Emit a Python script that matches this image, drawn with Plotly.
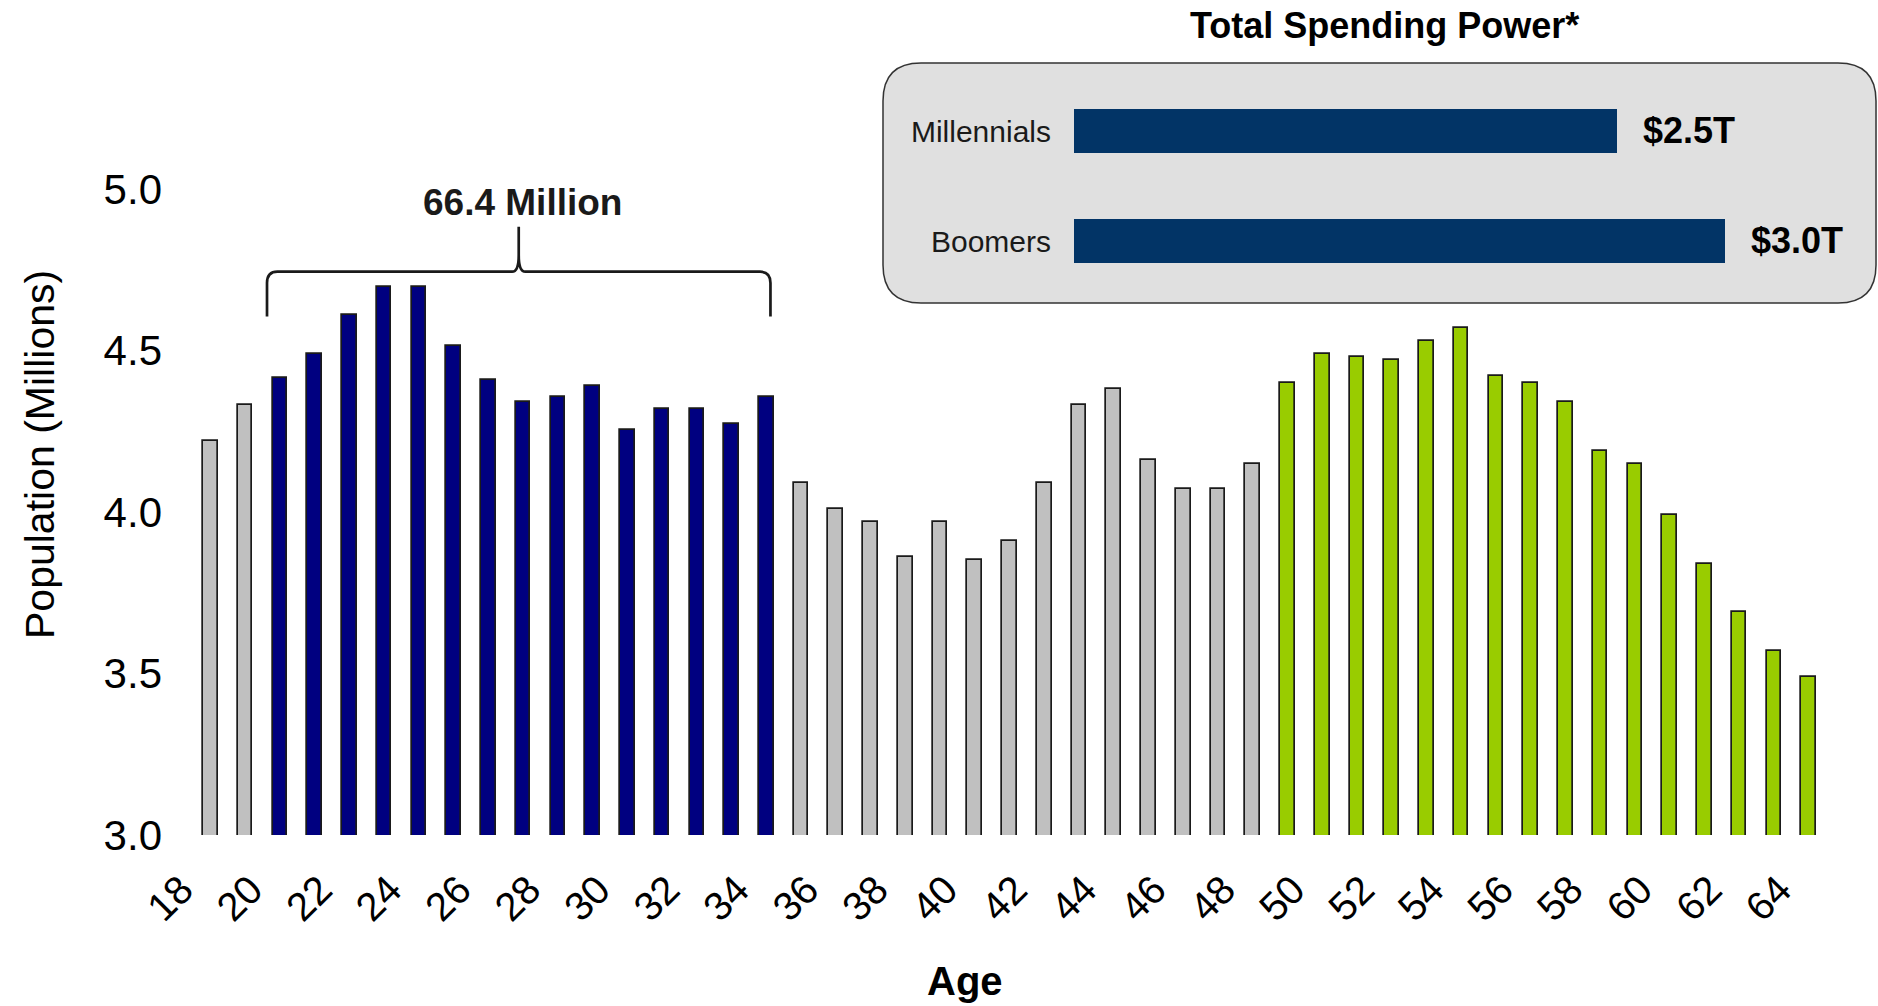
import plotly.graph_objects as go

# ---- data -------------------------------------------------------------
ages = list(range(18, 65))
population = [
    4.22, 4.33, 4.416, 4.490, 4.610, 4.697, 4.697, 4.513, 4.410, 4.340,
    4.356, 4.389, 4.255, 4.319, 4.319, 4.274, 4.356, 4.09, 4.01, 3.97,
    3.86, 3.97, 3.85, 3.91, 4.09, 4.33, 4.38, 4.16, 4.07, 4.07,
    4.15, 4.40, 4.49, 4.48, 4.47, 4.53, 4.57, 4.42, 4.40, 4.34,
    4.19, 4.15, 3.99, 3.84, 3.69, 3.57, 3.49,
]
millennial_ages = list(range(20, 35))
boomer_ages = list(range(49, 65))
age_ticks = list(range(18, 65, 2))
pop_ticks = [3.0, 3.5, 4.0, 4.5, 5.0]

spend_groups = ["Millennials", "Boomers"]
spend_trillions = [2.5, 3.0]

# ---- styling ----------------------------------------------------------
W, H = 1878, 1006
FONT = "Liberation Sans, Arial, sans-serif"
GRAY, NAVY, GREEN = "#c0c0c0", "#000080", "#99cc00"
INSET_BAR = "#023466"


def fx(px):
    return px / W


def fy(py):
    return 1 - py / H


colors = []
for a in ages:
    if a in millennial_ages:
        colors.append(NAVY)
    elif a in boomer_ages:
        colors.append(GREEN)
    else:
        colors.append(GRAY)

fig = go.Figure()

fig.add_trace(go.Bar(
    x=ages, y=population, width=0.42,
    marker=dict(color=colors, line=dict(color="#1a1a1a", width=1.7)),
    xaxis="x", yaxis="y", showlegend=False, hoverinfo="x+y",
))

fig.add_trace(go.Bar(
    x=spend_trillions, y=spend_groups, orientation="h", width=0.395,
    marker=dict(color=INSET_BAR, line=dict(width=0)),
    xaxis="x2", yaxis="y2", showlegend=False, hoverinfo="x+y",
))

# ---- axes -------------------------------------------------------------
fig.update_layout(
    width=W, height=H,
    margin=dict(l=0, r=0, t=0, b=0, pad=0, autoexpand=False),
    paper_bgcolor="white", plot_bgcolor="rgba(0,0,0,0)",
    font=dict(family=FONT, color="#000"),
    bargap=0,
    xaxis=dict(
        domain=[fx(193), fx(1826)], range=[17.5, 64.5],
        tickmode="array", tickvals=age_ticks, tickangle=-45,
        tickfont=dict(size=40, family=FONT, color="#000"),
        showgrid=False, zeroline=False, showline=False, ticks="",
        ticklabelstandoff=22, ticklabelshift=-29, anchor="y", automargin=False,
    ),
    yaxis=dict(
        domain=[fy(835), fy(189)], range=[3.0, 5.0],
        tickmode="array", tickvals=pop_ticks, tickformat=".1f",
        tickfont=dict(size=42, family=FONT, color="#000"),
        showgrid=False, zeroline=False, showline=False, ticks="",
        ticklabelstandoff=30, anchor="x", automargin=False,
    ),
    xaxis2=dict(
        domain=[fx(1074), fx(1725)], range=[0, 3.0],
        visible=False, anchor="y2", automargin=False,
    ),
    yaxis2=dict(
        domain=[fy(296), fy(76)], type="category",
        categoryorder="array", categoryarray=spend_groups[::-1],
        tickfont=dict(size=30, family=FONT, color="#1a1a1a"),
        showgrid=False, zeroline=False, showline=False, ticks="",
        ticklabelstandoff=22, anchor="x2", automargin=False,
    ),
)

# ---- rounded inset panel ------------------------------------------------
bx0, bx1, by0, by1, r = 883, 1876, 63, 303, 38


def P(px, py):
    return f"{fx(px):.5f},{fy(py):.5f}"


panel = (
    f"M{P(bx0 + r, by0)} L{P(bx1 - r, by0)} Q{P(bx1, by0)} {P(bx1, by0 + r)} "
    f"L{P(bx1, by1 - r)} Q{P(bx1, by1)} {P(bx1 - r, by1)} "
    f"L{P(bx0 + r, by1)} Q{P(bx0, by1)} {P(bx0, by1 - r)} "
    f"L{P(bx0, by0 + r)} Q{P(bx0, by0)} {P(bx0 + r, by0)} Z"
)
fig.add_shape(type="path", path=panel, xref="paper", yref="paper",
              fillcolor="#e0e0e0", line=dict(color="#333333", width=1.5),
              layer="below")

# ---- brace over the millennial cohort -----------------------------------
left = millennial_ages[0] - 0.37
right = millennial_ages[-1] + 0.12
mid = (left + right) / 2
y_end, y_bar, y_join, y_tip = 4.605, 4.744, 4.796, 4.883
rx, ry = 0.30, 0.035
cx = 0.19


def D(x, y):
    return f"{x:.4f},{y:.4f}"


brace = (
    f"M{D(left, y_end)} L{D(left, y_bar - ry)} Q{D(left, y_bar)} {D(left + rx, y_bar)} "
    f"L{D(mid - cx, y_bar)} Q{D(mid, y_bar)} {D(mid, y_join)} L{D(mid, y_tip)} "
    f"M{D(mid, y_join)} Q{D(mid, y_bar)} {D(mid + cx, y_bar)} "
    f"L{D(right - rx, y_bar)} Q{D(right, y_bar)} {D(right, y_bar - ry)} L{D(right, y_end)}"
)
fig.add_shape(type="path", path=brace, xref="x", yref="y",
              line=dict(color="#1a1a1a", width=2.7))

cohort_total = sum(p for a, p in zip(ages, population) if a in millennial_ages)
fig.add_annotation(x=mid + 0.1, y=4.957, xref="x", yref="y",
                   xanchor="center", yanchor="middle",
                   text=f"{cohort_total:.1f} Million", showarrow=False,
                   font=dict(size=37, family=FONT, color="#1a1a1a", weight="bold"))

# ---- inset value labels -------------------------------------------------
for g, v in zip(spend_groups, spend_trillions):
    fig.add_annotation(x=v, y=g, xref="x2", yref="y2", xanchor="left",
                       yanchor="middle", xshift=24, text=f"${v:.1f}T",
                       showarrow=False,
                       font=dict(size=36, family=FONT, color="#000", weight="bold"))

# ---- titles -------------------------------------------------------------
fig.add_annotation(x=fx(1384), y=fy(26), xref="paper", yref="paper",
                   xanchor="center", yanchor="middle",
                   text="Total Spending Power*", showarrow=False,
                   font=dict(size=36, family=FONT, color="#000", weight="bold"))
fig.add_annotation(x=fx(40), y=fy(455), xref="paper", yref="paper",
                   xanchor="center", yanchor="middle",
                   text="Population (Millions)", textangle=-90, showarrow=False,
                   font=dict(size=41, family=FONT, color="#000"))
fig.add_annotation(x=fx(965), y=fy(981), xref="paper", yref="paper",
                   xanchor="center", yanchor="middle",
                   text="Age", showarrow=False,
                   font=dict(size=40, family=FONT, color="#000", weight="bold"))

fig.write_html("out.html")
